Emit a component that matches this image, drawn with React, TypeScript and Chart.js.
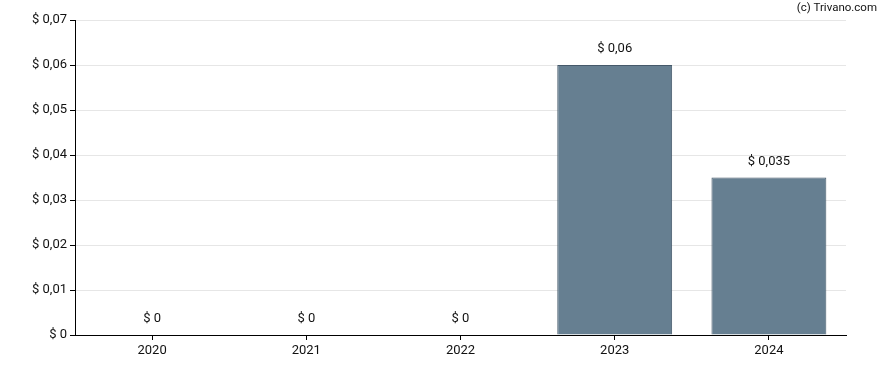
import React, { useEffect, useRef } from "react";
import { Chart, registerables } from "chart.js";

Chart.register(...registerables);

const categories = ["2020", "2021", "2022", "2023", "2024"];
const values = [0, 0, 0, 0.06, 0.035];
const valueLabels = ["$ 0", "$ 0", "$ 0", "$ 0,06", "$ 0,035"];
const yMin = 0;
const yMax = 0.07;
const yStep = 0.01;

const FONT = "Roboto, 'Liberation Sans', Arial, sans-serif";

const fmt = (v: number) => {
  if (Math.abs(v) < 1e-9) return "$ 0";
  return "$ " + v.toFixed(2).replace(".", ",");
};

const labelPlugin = {
  id: "valueLabels",
  afterDatasetsDraw(chart: any) {
    const ctx = chart.ctx;
    const meta = chart.getDatasetMeta(0);
    ctx.save();
    ctx.font = `13px ${FONT}`;
    ctx.fillStyle = "#111";
    ctx.textAlign = "center";
    ctx.textBaseline = "middle";
    meta.data.forEach((bar: any, i: number) => {
      ctx.fillText(valueLabels[i], bar.x, bar.y - 16);
    });
    ctx.restore();
  },
  afterDraw(chart: any) {
    const ctx = chart.ctx;
    ctx.save();
    ctx.font = `11.5px ${FONT}`;
    ctx.fillStyle = "#111";
    ctx.textAlign = "right";
    ctx.textBaseline = "middle";
    ctx.fillText("(c) Trivano.com", 877, 8);
    ctx.restore();
  },
};

export default function App() {
  const ref = useRef<HTMLCanvasElement | null>(null);
  useEffect(() => {
    document.body.style.margin = "0";
    const canvas = ref.current!;
    const chart = new Chart(canvas, {
      type: "bar",
      data: {
        labels: categories,
        datasets: [
          {
            data: values,
            backgroundColor: "#667f91",
            borderColor: "#45596a",
            borderWidth: 1,
            categoryPercentage: 1,
            barPercentage: 0.745,
          },
        ],
      },
      options: {
        animation: false,
        responsive: false,
        maintainAspectRatio: false,
        layout: { padding: { top: 20, right: 42, left: 0, bottom: 0 } },
        plugins: { legend: { display: false }, tooltip: { enabled: false } },
        scales: {
          x: {
            offset: true,
            grid: {
              display: true,
              drawOnChartArea: false,
              offset: false,
              tickLength: 5,
              tickColor: "#000",
            },
            border: { display: true, color: "#000", width: 1 },
            ticks: { color: "#111", font: { family: FONT, size: 13 }, padding: 3 },
            afterFit: (s: any) => {
              s.height = 35;
            },
          },
          y: {
            min: yMin,
            max: yMax,
            grid: {
              color: "#e6e6e6",
              tickLength: 5,
              tickColor: "#000",
            },
            border: { display: true, color: "#000", width: 1 },
            ticks: {
              stepSize: yStep,
              color: "#111",
              font: { family: FONT, size: 13 },
              padding: 3,
              callback: (v: any) => fmt(Number(v)),
            },
            afterFit: (s: any) => {
              s.width = 75;
            },
          },
        },
      },
      plugins: [labelPlugin],
    });
    return () => chart.destroy();
  }, []);
  return (
    <div style={{ position: "absolute", left: 0, top: 0, width: 888, height: 370 }}>
      <canvas ref={ref} width={888} height={370} />
    </div>
  );
}
